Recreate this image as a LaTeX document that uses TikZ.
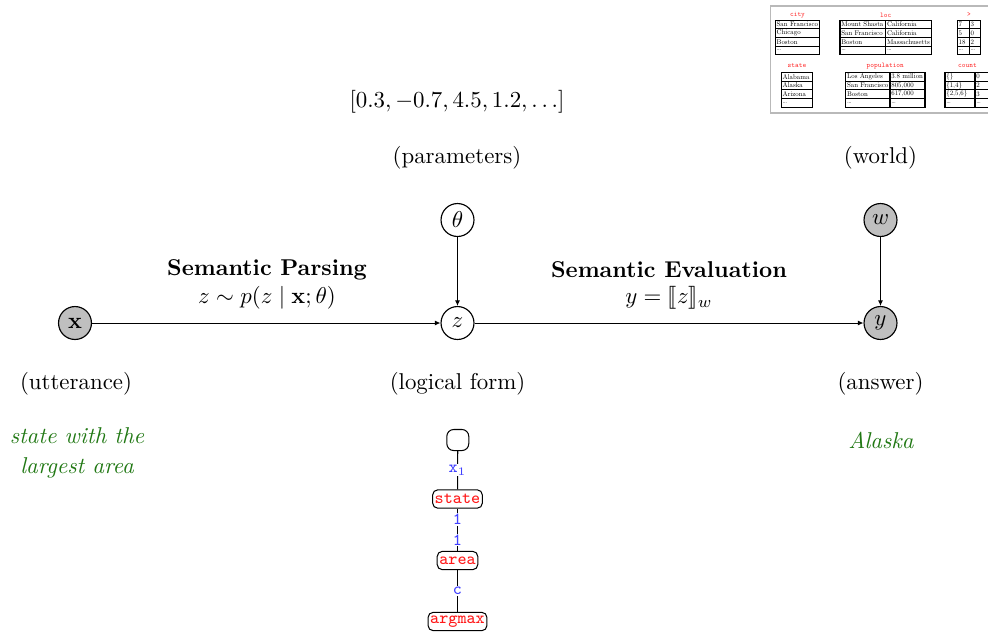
\documentclass[tikz,border=0pt]{standalone}
\usepackage{amsmath}
\usepackage{stmaryrd}
\usetikzlibrary{arrows.meta}
\definecolor{nodegray}{gray}{0.75}
\definecolor{mygreen}{rgb}{0.13,0.47,0.08}
\definecolor{lblue}{rgb}{0.25,0.25,1}
\definecolor{tred}{rgb}{1,0.1,0.1}
\newcommand\tinyt[1]{\scalebox{0.3}{\fontsize{10}{12}\selectfont #1}}
\newcommand\tinytt[1]{\scalebox{0.31}{\fontsize{10}{12}\selectfont\ttfamily #1}}
\tikzset{
  var/.style={circle,draw,line width=0.5pt,minimum size=14.4pt,inner sep=0pt},
  obs/.style={var,fill=nodegray},
  arr/.style={line width=0.45pt,-{Latex[length=2.4pt,width=2.2pt]}},
  greentxt/.style={text=mygreen,font=\itshape,align=center},
  lf/.style={draw,rounded corners=2.2pt,line width=0.45pt,inner xsep=0.9pt,inner ysep=1.2pt,minimum height=8.0pt,text=tred,font=\fontsize{7.5}{9}\selectfont\ttfamily},
  elab/.style={fill=white,inner sep=0.4pt,text=lblue,font=\fontsize{7.5}{9}\selectfont\ttfamily},
  tabline/.style={line width=0.45pt},
  tabtxt/.style={anchor=west,inner sep=0pt},
  tabttl/.style={inner sep=0pt,text=tred},
}
\newcommand\tabone[5]{% x0 x1 ytop rowh rows
  \draw[tabline] (#1,#3) rectangle (#2,#3+4*#4);
  \foreach \k in {1,2,3} \draw[tabline] (#1,#3+\k*#4) -- (#2,#3+\k*#4);
  \foreach[count=\i] \a in {#5} {\node[tabtxt] at (#1+0.9,#3+\i*#4-#4/2) {\tinyt{\a}};}
}
\newcommand\tabtwo[6]{% x0 x1 x2 ytop rowh rows
  \draw[tabline] (#1,#4) rectangle (#3,#4+4*#5);
  \draw[tabline] (#2,#4) -- (#2,#4+4*#5);
  \foreach \k in {1,2,3} \draw[tabline] (#1,#4+\k*#5) -- (#3,#4+\k*#5);
  \foreach[count=\i] \a/\b in {#6} {
    \node[tabtxt] at (#1+0.9,#4+\i*#5-#5/2) {\tinyt{\a}};
    \node[tabtxt] at (#2+0.9,#4+\i*#5-#5/2) {\tinyt{\b}};}
}
\begin{document}
\begin{tikzpicture}[x=0.437pt,y=-0.437pt]
\useasboundingbox (0,0) rectangle (988,633);

% world frame and tables
\draw[gray!55,line width=0.6pt] (770.5,6) rectangle (998,113);
\node[tabttl] (tcity) at (797.5,15) {\tinytt{city}};
\tabone{775.3}{819.7}{20.3}{8.6}{San Francisco,Chicago,Boston,\dots}
\node[tabttl] (tloc) at (885.7,15) {\tinytt{loc}};
\tabtwo{840}{885.7}{931.7}{20.3}{8.6}{Mount Shasta/California,San Francisco/California,Boston/Massachusetts,\dots/\dots}
\node[tabttl] (tgt) at (969,14.5) {\tinytt{>}};
\tabtwo{957.3}{969.3}{980.7}{20.3}{8.6}{7/3,5/0,18/2,\dots/\dots}
\node[tabttl] (tstate) at (797,66) {\tinytt{state}};
\tabone{781.3}{812.3}{72.3}{8.75}{Alabama,Alaska,Arizona,\dots}
\node[tabttl] (tpop) at (885.3,66) {\tinytt{population}};
\tabtwo{845.7}{890}{925}{72.3}{8.75}{Los Angeles/3.8 million,San Francisco/{805,000},Boston/{617,000},\dots/\dots}
\node[tabttl] (tcount) at (967.5,66) {\tinytt{count}};
\tabtwo{945}{975}{988.3}{72.3}{8.75}{\{\}/0,{\{1,4\}}/2,{\{2,5,6\}}/3,\dots/\dots}

% captions
\node (vec) at (457,102) {$[0.3,-0.7,4.5,1.2,\ldots]$};
\node (cparam) at (457,158) {(parameters)};
\node (cworld) at (880.5,158) {(world)};
\node (cutt) at (76,384) {(utterance)};
\node (clf) at (457.5,384) {(logical form)};
\node (cans) at (880.5,384) {(answer)};

% graphical model
\node[obs] (x) at (75,323) {$\mathbf{x}$};
\node[var] (z) at (457.5,323) {$z$};
\node[var] (th) at (457.5,220) {$\theta$};
\node[obs] (w) at (880.5,220) {$w$};
\node[obs] (y) at (880.5,323) {$y$};
\draw[arr] (x) -- (z);
\draw[arr] (th) -- (z);
\draw[arr] (z) -- (y);
\draw[arr] (w) -- (y);

\node (sp) at (267,270) {\textbf{Semantic Parsing}};
\node (spf) at (267,298) {$z \sim p(z \mid \mathbf{x}; \theta)$};
\node (se) at (669,270) {\textbf{Semantic Evaluation}};
\node (sef) at (669,298) {$y = \llbracket z \rrbracket_w$};

% examples
\node[greentxt] (ex) at (77,453) {state with the\\[1pt]largest area};
\node[greentxt] (ans) at (881,440) {Alaska};

% logical form tree
\node[draw,rounded corners=3pt,line width=0.45pt,minimum width=9.6pt,minimum height=9.2pt,inner sep=0pt] (root) at (457.8,440) {};
\node[lf] (st) at (457.5,499) {state};
\node[lf] (ar) at (457.5,560.5) {area};
\node[lf] (am) at (457.5,621.5) {argmax};
\draw[line width=0.45pt] (root) -- node[elab] {x$_1$} (st);
\draw[line width=0.45pt] (st) -- node[elab,pos=0.26] {1} node[elab,pos=0.74] {1} (ar);
\draw[line width=0.45pt] (ar) -- node[elab] {c} (am);
\end{tikzpicture}
\end{document}
